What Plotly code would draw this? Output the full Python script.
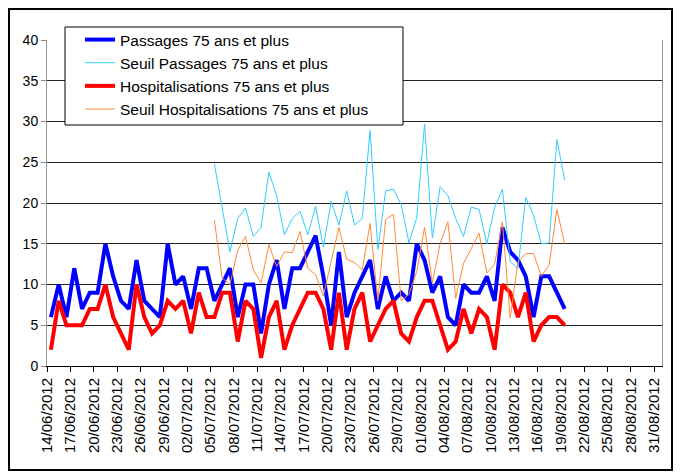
import plotly.graph_objects as go
import pandas as pd

# Daily counts, 14/06/2012 -> 19/08/2012
passages = [6, 10, 6, 12, 7, 9, 9, 15, 11, 8, 7, 13, 8, 7, 6, 15, 10, 11, 7, 12,
            12, 8, 10, 12, 6, 10, 10, 4, 10, 13, 7, 12, 12, 14, 16, 11, 5, 14, 6, 9,
            11, 13, 7, 11, 8, 9, 8, 15, 13, 9, 11, 6, 5, 10, 9, 9, 11, 8, 17, 14,
            13, 11, 6, 11, 11, 9, 7]
hospit = [2, 8, 5, 5, 5, 7, 7, 10, 6, 4, 2, 10, 6, 4, 5, 8, 7, 8, 4, 9,
          6, 6, 9, 9, 3, 8, 7, 1, 6, 8, 2, 5, 7, 9, 9, 7, 2, 9, 2, 7,
          9, 3, 5, 7, 8, 4, 3, 6, 8, 8, 5, 2, 3, 7, 4, 7, 6, 2, 10, 9,
          6, 9, 3, 5, 6, 6, 5]
# Thresholds, 05/07/2012 -> 19/08/2012
seuil_passages = [24.8, 19.5, 14.0, 18.1, 19.4, 15.9, 17.0, 23.8, 20.9, 16.1,
                  18.1, 19.0, 16.1, 19.6, 14.6, 20.2, 17.3, 21.5, 17.3, 18.1,
                  28.9, 14.3, 21.5, 21.7, 19.8, 15.1, 18.2, 29.7, 15.7, 22.0,
                  20.9, 18.1, 15.9, 19.5, 19.2, 15.0, 19.5, 21.7, 12.8, 12.0,
                  20.7, 18.5, 15.0, 15.1, 27.8, 22.8]
seuil_hospit = [17.9, 10.8, 10.0, 14.2, 15.9, 11.8, 10.2, 14.9, 12.2, 14.0,
                13.9, 16.5, 12.0, 11.2, 8.6, 12.8, 17.0, 13.1, 12.7, 11.8,
                17.5, 8.0, 18.0, 18.6, 8.0, 8.8, 11.6, 17.0, 10.2, 15.0,
                17.7, 8.3, 12.6, 14.4, 16.3, 11.4, 12.5, 17.7, 5.9, 12.8,
                13.8, 13.8, 11.0, 12.4, 19.2, 15.0]

days = pd.date_range("2012-06-14 12:00", periods=len(passages), freq="D")
seuil_days = pd.date_range("2012-07-05 12:00", periods=len(seuil_passages), freq="D")
tick_days = pd.date_range("2012-06-14", "2012-08-31", freq="3D")

FONT = "Liberation Sans, Arial, sans-serif"

fig = go.Figure()
fig.add_trace(go.Scatter(x=days, y=passages, name="Passages 75 ans et plus",
                         mode="lines", line=dict(color="#0000ff", width=4)))
fig.add_trace(go.Scatter(x=seuil_days, y=seuil_passages, name="Seuil Passages 75 ans et plus",
                         mode="lines", line=dict(color="#33ccff", width=1)))
fig.add_trace(go.Scatter(x=days, y=hospit, name="Hospitalisations 75 ans et plus",
                         mode="lines", line=dict(color="#ff0000", width=4)))
fig.add_trace(go.Scatter(x=seuil_days, y=seuil_hospit, name="Seuil Hospitalisations 75 ans et plus",
                         mode="lines", line=dict(color="#ff8833", width=1)))

# the page body adds an 8px offset, so the figure is drawn 8px smaller
OFF = 8
FW, FH = 682 - OFF, 476 - OFF
L, T = 47 - OFF, 40 - OFF
R, B = FW - (662 - OFF), FH - (366 - OFF)
W, H = FW - L - R, FH - T - B


def px_x(p):
    return (p - OFF - L) / W


def px_y(p):
    return (FH - B - (p - OFF)) / H


fig.update_layout(
    width=FW, height=FH,
    margin=dict(l=L, r=R, t=T, b=B),
    paper_bgcolor="white", plot_bgcolor="white",
    font=dict(family=FONT, color="black", size=13),
    showlegend=True,
    legend=dict(x=px_x(80), y=px_y(23), xanchor="left", yanchor="top",
                bgcolor="rgba(0,0,0,0)", borderwidth=0,
                font=dict(size=15.5), tracegroupgap=0, itemwidth=30),
    xaxis=dict(type="date", range=["2012-06-14", "2012-09-01"],
               tickvals=tick_days, tickformat="%d/%m/%Y", tickangle=-90,
               ticks="outside", ticklen=5, tickcolor="black",
               showgrid=False, showline=True, linecolor="black", linewidth=1,
               tickfont=dict(size=15)),
    yaxis=dict(range=[0, 40], dtick=5, ticks="outside", ticklen=5, tickcolor="#888",
               showgrid=True, gridcolor="#222", gridwidth=1,
               showline=True, linecolor="#999", linewidth=1, mirror=True,
               zeroline=False, tickfont=dict(size=14)),
    shapes=[
        # legend box
        dict(type="rect", xref="paper", yref="paper",
             x0=px_x(65), x1=px_x(403), y0=px_y(125), y1=px_y(27),
             line=dict(color="black", width=1), fillcolor="white", layer="above"),
        # outer frame
        dict(type="rect", xref="paper", yref="paper",
             x0=px_x(9), x1=px_x(672), y0=px_y(470), y1=px_y(9),
             line=dict(color="black", width=2), fillcolor="rgba(0,0,0,0)"),
    ],
)

fig.write_html("out.html")
